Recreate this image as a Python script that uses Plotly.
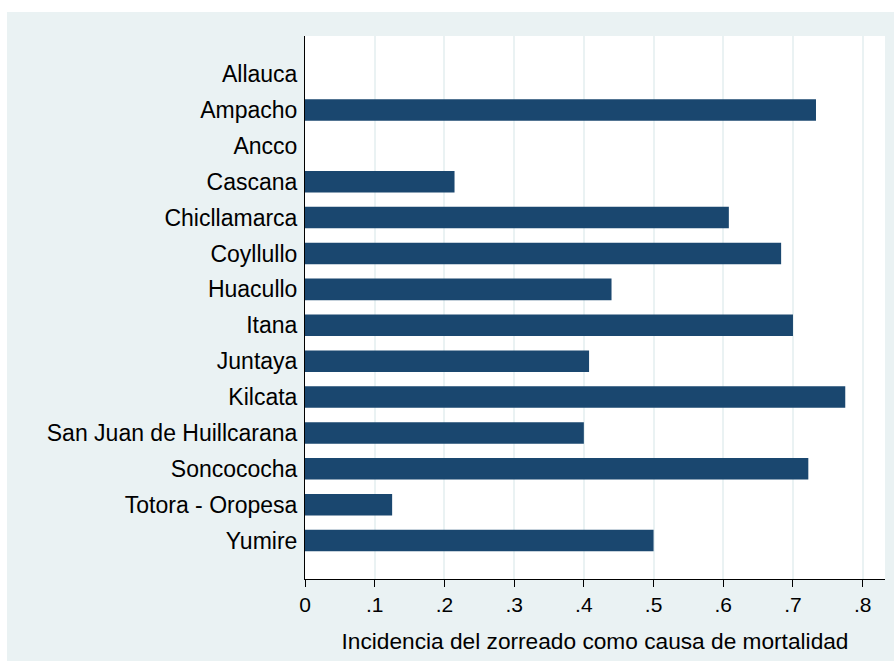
import plotly.graph_objects as go

categories = ["Allauca", "Ampacho", "Ancco", "Cascana", "Chicllamarca", "Coyllullo",
              "Huacullo", "Itana", "Juntaya", "Kilcata", "San Juan de Huillcarana",
              "Soncococha", "Totora - Oropesa", "Yumire"]
values = [0, 0.733, 0, 0.2145, 0.608, 0.683, 0.4397, 0.700, 0.4075, 0.775,
          0.400, 0.722, 0.125, 0.500]
xtick_vals = [0, 0.1, 0.2, 0.3, 0.4, 0.5, 0.6, 0.7, 0.8]
xtick_text = ["0", ".1", ".2", ".3", ".4", ".5", ".6", ".7", ".8"]
x_title = "Incidencia del zorreado como causa de mortalidad"

W, H = 896, 665
ML, MR, MT, MB = 305, 11, 36, 86
pw, ph = W - ML - MR, H - MT - MB
FONT = "Liberation Sans, Arial, sans-serif"
BG = "#EAF2F3"
BAR = "#1A476F"

fig = go.Figure(go.Bar(
    y=categories, x=values, orientation="h",
    marker=dict(color=BAR, line=dict(width=0)),
    width=0.6,
))

def px_x(p):
    return (p - ML) / pw

def px_y(p):
    return (H - MB - p) / ph

fig.update_layout(
    width=W, height=H,
    margin=dict(l=ML, r=MR, t=MT, b=MB, pad=0),
    paper_bgcolor=BG, plot_bgcolor="white",
    showlegend=False,
    font=dict(family=FONT, color="#000000", size=23),
    shapes=[
        dict(type="rect", xref="paper", yref="paper", layer="above",
             x0=px_x(-2), x1=px_x(7), y0=px_y(H + 2), y1=px_y(-2),
             fillcolor="white", line=dict(width=0)),
        dict(type="rect", xref="paper", yref="paper", layer="above",
             x0=px_x(-2), x1=px_x(W + 2), y0=px_y(12), y1=px_y(-2),
             fillcolor="white", line=dict(width=0)),
    ],
)

fig.update_xaxes(
    range=[0, 0.832], autorange=False,
    tickmode="array", tickvals=xtick_vals, ticktext=xtick_text,
    ticks="outside", ticklen=7, tickwidth=1, tickcolor="#000000",
    tickfont=dict(size=21, family=FONT, color="#000000"),
    showgrid=True, gridcolor=BG, gridwidth=2,
    zeroline=False,
    showline=True, linecolor="#000000", linewidth=1,
    title=dict(text=x_title, font=dict(size=22.7, family=FONT, color="#000000"), standoff=17),
)

fig.update_yaxes(
    type="category", categoryorder="array", categoryarray=categories,
    range=[14.07, -1.06], autorange=False,
    ticks="", showgrid=False, zeroline=False,
    showline=True, linecolor="#000000", linewidth=1,
    tickfont=dict(size=23, family=FONT, color="#000000"),
    ticklabelstandoff=2,
)

fig.write_html(
    "out.html",
    config={"displayModeBar": False},
    post_script="document.body.style.margin='0';document.body.style.overflow='hidden';",
)
